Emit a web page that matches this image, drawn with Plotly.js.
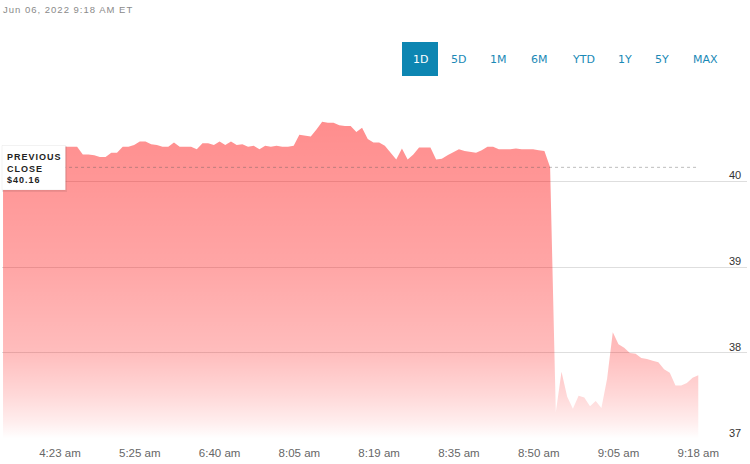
<!DOCTYPE html>
<html>
<head>
<meta charset="utf-8">
<script src="https://cdn.plot.ly/plotly-3.0.1.min.js"></script>
<style>
  html, body { margin: 0; padding: 0; background: #fff; }
  #chart { width: 750px; height: 464px; }
  .annotation[data-index="8"] text { letter-spacing: 1px; }
  .annotation[data-index="9"] text { letter-spacing: 1px; }
</style>
</head>
<body>
<div id="chart"></div>
<script>
// ---- data ----
const prices = [
  40.40, 40.40, 40.40, 40.40, 40.40, 40.40, 40.40, 40.40, 40.40, 40.40,
  40.40, 40.40, 40.40, 40.40, 40.31, 40.31, 40.30, 40.28, 40.28, 40.33,
  40.33, 40.40, 40.40, 40.42, 40.46, 40.46, 40.43, 40.42, 40.40, 40.40,
  40.45, 40.40, 40.40, 40.40, 40.37, 40.44, 40.44, 40.42, 40.46, 40.42,
  40.46, 40.42, 40.43, 40.40, 40.41, 40.37, 40.41, 40.40, 40.41, 40.40,
  40.40, 40.41, 40.54, 40.53, 40.52, 40.60, 40.69, 40.68, 40.68, 40.65,
  40.64, 40.64, 40.57, 40.62, 40.49, 40.45, 40.45, 40.41, 40.33, 40.25,
  40.38, 40.25, 40.31, 40.39, 40.39, 40.39, 40.25, 40.26, 40.30, 40.34,
  40.37, 40.35, 40.34, 40.33, 40.36, 40.40, 40.40, 40.37, 40.37, 40.37,
  40.38, 40.37, 40.37, 40.37, 40.36, 40.35, 40.16, 37.31, 37.78, 37.49,
  37.35, 37.50, 37.48, 37.38, 37.44, 37.36, 37.70, 38.24, 38.10, 38.06,
  38.00, 37.99, 37.94, 37.93, 37.91, 37.89, 37.81, 37.77, 37.62, 37.62,
  37.65, 37.71, 37.74
];
const tickIndex = [10, 24, 38, 52, 66, 80, 94, 108, 122];
const tickLabels = ['4:23 am', '5:25 am', '6:40 am', '8:05 am', '8:19 am', '8:35 am', '8:50 am', '9:05 am', '9:18 am'];
const yTicks = [37, 38, 39, 40, 41];
const yTickLabels = ['37', '38', '39', '40', ''];
const previousClose = 40.16;
const rangeButtons = ['1D', '5D', '1M', '6M', 'YTD', '1Y', '5Y', 'MAX'];
const stampText = 'Jun 06, 2022 9:18 AM ET';

// ---- layout geometry helpers (pixels -> paper) ----
const W = 750, H = 464;
const M = { l: 2, r: 3, t: 95, b: 25 };
const PW = W - M.l - M.r, PH = H - M.t - M.b;
const px = v => (v - M.l) / PW;
const py = v => (H - M.b - v) / PH;

const xIdx = prices.map((_, i) => i);

const trace = {
  type: 'scatter',
  mode: 'lines',
  x: xIdx,
  y: prices,
  line: { width: 0, color: 'rgba(255,120,120,0.9)' },
  fill: 'tozeroy',
  fillgradient: {
    type: 'vertical',
    start: 37,
    stop: 40.75,
    colorscale: [
      [0, 'rgba(255,0,0,0.0)'],
      [0.053, 'rgba(255,0,0,0.07)'],
      [0.133, 'rgba(255,0,0,0.15)'],
      [0.267, 'rgba(255,0,0,0.26)'],
      [0.533, 'rgba(255,0,0,0.35)'],
      [0.8, 'rgba(255,0,0,0.41)'],
      [1, 'rgba(255,0,0,0.45)']
    ]
  },
  hoverinfo: 'skip'
};

const btnCenters = [420, 458.3, 498.7, 539, 583, 625, 662.3, 705.7];
const annotations = [];
const shapes = [];

// previous close dashed line
shapes.push({
  type: 'line', xref: 'x', yref: 'y',
  x0: 0, x1: prices.length - 1, y0: previousClose, y1: previousClose,
  line: { color: 'rgba(90,90,90,0.4)', width: 1, dash: '3px,3px' },
  layer: 'above'
});
// previous close box (shadow + box)
shapes.push({
  type: 'rect', xref: 'paper', yref: 'paper',
  x0: px(2), x1: px(67), y0: py(192), y1: py(146),
  fillcolor: 'rgba(0,0,0,0.07)', line: { width: 0 }, layer: 'above'
});
shapes.push({
  type: 'rect', xref: 'paper', yref: 'paper',
  x0: px(2), x1: px(65.5), y0: py(190), y1: py(145.5),
  fillcolor: '#ffffff', line: { color: 'rgba(0,0,0,0.05)', width: 1 }, layer: 'above'
});
// selected range button
shapes.push({
  type: 'rect', xref: 'paper', yref: 'paper',
  x0: px(402), x1: px(438), y0: py(76), y1: py(42),
  fillcolor: '#0d86b2', line: { color: '#0d86b2', width: 0 }, layer: 'above'
});

rangeButtons.forEach((b, i) => {
  annotations.push({
    text: b, xref: 'paper', yref: 'paper',
    x: px(btnCenters[i]), y: py(59.5), xanchor: 'center', yanchor: 'middle',
    showarrow: false,
    font: { family: 'DejaVu Sans', size: 11, color: i === 0 ? '#ffffff' : '#1a89b6' }
  });
});

// index 8
annotations.push({
  text: stampText, xref: 'paper', yref: 'paper',
  x: px(1), y: py(9.5), xanchor: 'left', yanchor: 'middle', align: 'left',
  showarrow: false,
  font: { family: 'Liberation Sans', size: 9.5, color: '#8a8a8a' }
});
// index 9
annotations.push({
  text: 'PREVIOUS<br>CLOSE<br>$' + previousClose.toFixed(2), xref: 'paper', yref: 'paper',
  x: px(5), y: py(168), xanchor: 'left', yanchor: 'middle', align: 'left',
  showarrow: false,
  font: { family: 'Liberation Sans', size: 9, color: '#222222', weight: 'bold' }
});

// y-axis value labels, sitting just above their gridlines at the right edge
yTicks.forEach((v, i) => {
  if (!yTickLabels[i]) return;
  annotations.push({
    text: yTickLabels[i], xref: 'paper', yref: 'y',
    x: px(743), y: v, xanchor: 'right', yanchor: 'bottom',
    yshift: -2, showarrow: false,
    font: { family: 'Liberation Sans', size: 11, color: '#333333' }
  });
});

const layout = {
  width: W, height: H,
  margin: M,
  paper_bgcolor: '#ffffff',
  plot_bgcolor: '#ffffff',
  showlegend: false,
  hovermode: false,
  xaxis: {
    range: [-0.18, 130.55],
    tickvals: tickIndex,
    ticktext: tickLabels,
    showgrid: false, zeroline: false, showline: false, ticks: '',
    ticklabelstandoff: 5,
    tickfont: { family: 'Liberation Sans', size: 11.5, color: '#666666' },
    fixedrange: true
  },
  yaxis: {
    range: [36.998, 41.002],
    side: 'right',
    tickvals: yTicks,
    showticklabels: false,
    showgrid: true, gridcolor: '#dedede', gridwidth: 1,
    zeroline: false, showline: false, ticks: '',
    fixedrange: true
  },
  shapes: shapes,
  annotations: annotations
};

Plotly.newPlot('chart', [trace], layout, { displayModeBar: false, staticPlot: true });
</script>
</body>
</html>
